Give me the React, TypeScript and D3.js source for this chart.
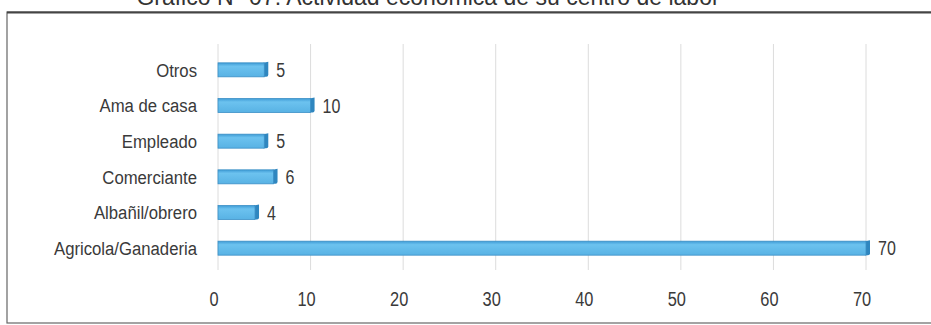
import React from "react";
import * as d3 from "d3";

const categories = ["Otros", "Ama de casa", "Empleado", "Comerciante", "Albañil/obrero", "Agricola/Ganaderia"];
const values = [5, 10, 5, 6, 4, 70];
const ticks = [0, 10, 20, 30, 40, 50, 60, 70];
const title = "Gráfico N° 07: Actividad económica de su centro de labor";

const W = 931;
const H = 325;
const FONT = "'Liberation Sans', Arial, sans-serif";

function NText({ x, y, sx, size, anchor, children }: any) {
  return (
    <text
      transform={`translate(${x},${y}) scale(${sx},1)`}
      textAnchor={anchor || "start"}
      dy="0.36em"
      fontFamily={FONT}
      fontSize={size}
      fill="#3a3a3a"
    >
      {children}
    </text>
  );
}

export default function App() {
  const x = d3.scaleLinear().domain([0, 70]).range([218, 866]);
  const y = d3.scaleBand<string>().domain(categories).range([52, 266]).padding(0);
  const bh = 14;
  const depth = 4;
  return (
    <svg width={W} height={H} style={{ position: "absolute", left: 0, top: 0, background: "#fff" }}>
      <defs>
        <linearGradient id="barg" x1="0" y1="0" x2="0" y2="1">
          <stop offset="0" stopColor="#3f9cd6" />
          <stop offset="0.25" stopColor="#6cc2ef" />
          <stop offset="1" stopColor="#58b2e4" />
        </linearGradient>
      </defs>
      <text x={428} y={5} textAnchor="middle" fontFamily={FONT} fontSize={23} fill="#333">{title}</text>
      <rect x={7} y={12} width={940} height={311} fill="none" stroke="#666" strokeWidth={1.2} />
      <line x1={7} y1={12.5} x2={931} y2={12.5} stroke="#444" strokeWidth={2} />
      {ticks.map((t) => (
        <line key={"g" + t} x1={x(t)} x2={x(t)} y1={44} y2={270} stroke="#dcdcdc" strokeWidth={1} />
      ))}
      {categories.map((c, i) => {
        const cy = y(c)! + y.bandwidth() / 2;
        const y0 = cy - bh / 2;
        const x1 = x(values[i]);
        return (
          <g key={c}>
            <path
              d={`M${x1 - 1},${y0} L${x1 + depth},${y0 - 1} L${x1 + depth},${y0 + bh - 2} Q${x1 + depth},${y0 + bh} ${x1 + depth - 2},${y0 + bh} L${x1 - 1},${y0 + bh} Z`}
              fill="#2f86bf"
            />
            <rect x={x(0)} y={y0} width={x1 - x(0)} height={bh} fill="url(#barg)" stroke="#3b8fc6" strokeWidth={0.8} />
            <NText x={x1 + depth + 8} y={cy} sx={0.8} size={20}>{values[i]}</NText>
            <NText x={197} y={cy} sx={0.88} size={19} anchor="end">{c}</NText>
          </g>
        );
      })}
      {ticks.map((t) => (
        <NText key={"t" + t} x={x(t) - 4} y={298} sx={0.78} size={21} anchor="middle">{t}</NText>
      ))}
    </svg>
  );
}
